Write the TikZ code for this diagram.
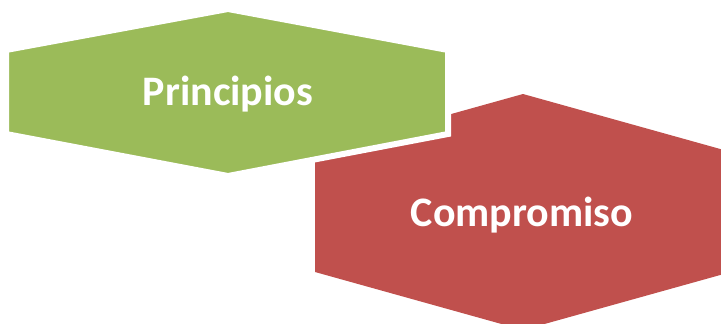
\documentclass[tikz,border=0pt]{standalone}
\usepackage{fontspec}
\setmainfont{Carlito}
\definecolor{hexgreen}{HTML}{9BBB59}
\definecolor{hexred}{HTML}{C0504D}
\begin{document}
\begin{tikzpicture}[x=1pt,y=-1pt,
  hexlabel/.style={text=white,font=\bfseries\fontsize{42}{48}\selectfont,inner sep=0pt,anchor=base}]
\useasboundingbox (0,0) rectangle (721,324);
\clip (0,0) rectangle (721,324);
\fill[hexred] (315,152) -- (523,94) -- (731,152) -- (731,272) -- (523,330) -- (315,272) -- cycle;
\filldraw[fill=hexgreen,draw=white,line width=6pt,line join=miter] (6,50) -- (228,9) -- (448,50) -- (448,134) -- (228,176) -- (6,134) -- cycle;
\node[hexlabel] (principios) at (228,105) {Principios};
\node[hexlabel] (compromiso) at (522,226) {Compromiso};
\end{tikzpicture}
\end{document}
